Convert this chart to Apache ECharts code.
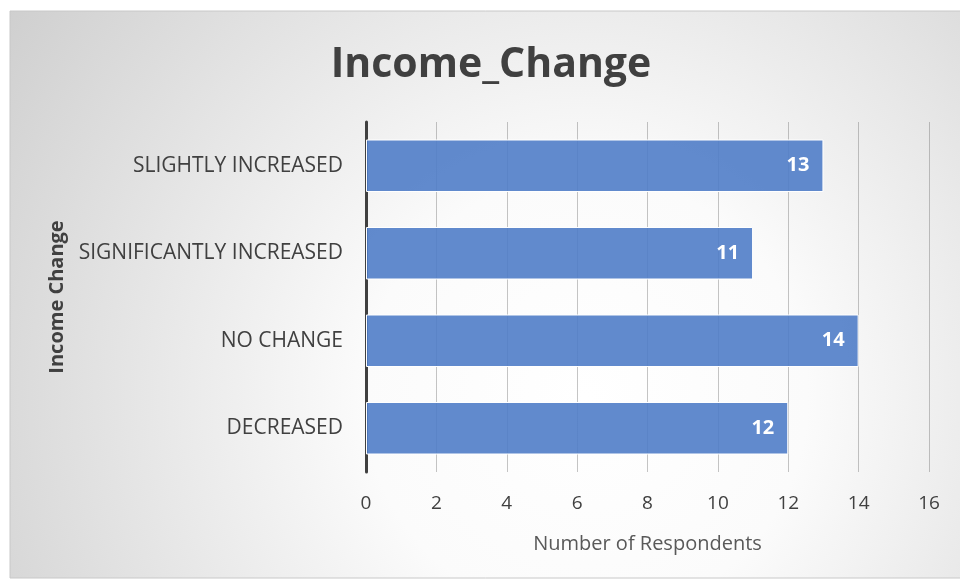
<!DOCTYPE html>
<html><head><meta charset="utf-8">
<script src="https://cdn.jsdelivr.net/npm/echarts@6/dist/echarts.min.js"></script>
<style>html,body{margin:0;padding:0;background:#fff}#c{width:960px;height:581px}</style>
</head><body><div id="c"></div>
<script>
var categories = ['DECREASED', 'NO CHANGE', 'SIGNIFICANTLY INCREASED', 'SLIGHTLY INCREASED'];
var respondents = [12, 14, 11, 13];
var xTicks = [0, 2, 4, 6, 8, 10, 12, 14, 16];

var chart = echarts.init(document.getElementById('c'));
var font = 'Open Sans';
chart.setOption({
  animation: false,
  graphic: [{
    type: 'rect', z: -10,
    shape: {x: 10, y: 11, width: 960, height: 567},
    style: {
      fill: new echarts.graphic.RadialGradient(0.6, 0.68, 1.3, [
        {offset: 0, color: '#ffffff'},
        {offset: 0.3, color: '#fbfbfb'},
        {offset: 0.65, color: '#e3e3e3'},
        {offset: 1, color: '#cbcbcb'}
      ]),
      stroke: '#c8c8c8', lineWidth: 1
    }
  }],
  title: {
    text: 'Income_Change', left: 486, top: 40, textAlign: 'center',
    textStyle: {fontFamily: font, fontWeight: 'bold', fontSize: 41, color: '#404040'}
  },
  grid: {left: 366, right: 31, top: 122, bottom: 109, containLabel: false},
  xAxis: {
    type: 'value', min: 0, max: 16, interval: 2,
    name: 'Number of Respondents', nameLocation: 'middle', nameGap: 62,
    nameTextStyle: {fontFamily: font, fontSize: 20, color: '#595959'},
    axisLine: {show: false},
    axisTick: {show: false},
    axisLabel: {fontFamily: font, fontSize: 19, color: '#404040', margin: 22,
      formatter: function (v) { return xTicks.indexOf(v) >= 0 ? String(v) : ''; }},
    splitLine: {show: true, lineStyle: {color: 'rgba(110,110,110,0.4)', width: 1}}
  },
  yAxis: {
    type: 'category', data: categories,
    name: 'Income Change', nameLocation: 'middle', nameGap: 296, nameRotate: 90,
    nameTextStyle: {fontFamily: font, fontWeight: 'bold', fontSize: 20, color: '#404040'},
    axisLine: {show: true, lineStyle: {color: '#404040', width: 3}},
    axisTick: {show: false},
    axisLabel: {fontFamily: font, fontSize: 21, color: '#404040', margin: 23}
  },
  series: [{
    type: 'bar', data: respondents, barCategoryGap: '40%',
    itemStyle: {color: 'rgba(80,125,200,0.9)', borderColor: '#ffffff', borderWidth: 1},
    label: {show: true, position: 'insideRight', distance: 14,
      fontFamily: font, fontWeight: 'bold', fontSize: 20, color: '#ffffff'}
  }]
});
</script></body></html>
